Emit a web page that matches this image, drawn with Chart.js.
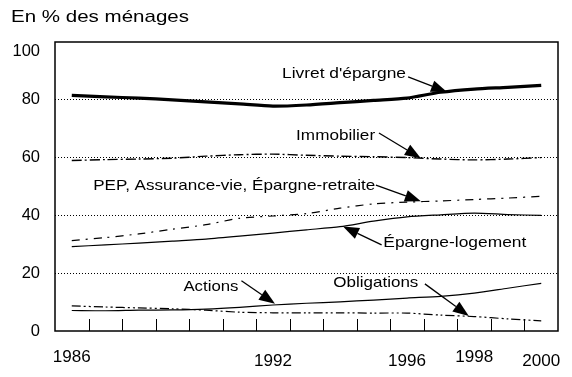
<!DOCTYPE html>
<html><head><meta charset="utf-8">
<script src="https://cdn.jsdelivr.net/npm/chart.js@4"></script>
<style>html,body{margin:0;padding:0;background:#fff;}canvas{display:block;}</style>
</head><body>
<canvas id="c" width="572" height="377"></canvas>
<script>
const years = [1986,1987,1988,1989,1990,1991,1992,1993,1994,1995,1996,1997,1998,1999,2000];
const livret      = [81.5,81.0,80.6,80.0,79.3,78.6,77.8,78.2,79.0,79.8,80.6,82.6,83.7,84.3,85.0];
const immobilier  = [59.0,59.3,59.5,59.8,60.5,61.0,61.2,60.8,60.5,60.3,60.0,59.5,59.2,59.5,60.0];
const pep         = [31.3,32.3,33.6,35.2,36.8,39.0,39.8,40.6,42.5,44.0,44.6,45.0,45.5,46.0,46.6];
const logement    = [29.2,29.8,30.4,31.1,31.8,32.8,33.9,35.0,36.1,38.0,39.5,40.2,40.8,40.3,40.0];
const actions     = [7.1,7.0,7.2,7.3,7.6,8.2,9.0,9.6,10.1,10.7,11.4,12.0,13.1,14.8,16.5];
const obligations = [8.7,8.3,8.0,7.7,7.2,6.5,6.3,6.3,6.3,6.2,6.2,5.5,5.0,4.2,3.5];
const yTicks = [0,20,40,60,80,100];
const xTickLabels = ['1986','1992','1996','1998','2000'];
const seriesNames = ["Livret d'épargne","Immobilier","PEP, Assurance-vie, Épargne-retraite","Épargne-logement","Actions","Obligations"];
const titleText = 'En % des ménages';

const pts = arr => years.map((y,i)=>({x:y, y:arr[i]}));

// annotation placement (data coordinates): label left/baseline, target width, arrow tail -> tip
const notes = [
  {t:seriesNames[0], x:1992.27, y:87.4, w:124, tail:[1996.03,87.9], tip:[1997.19,82.7]},
  {t:seriesNames[1], x:1992.69, y:66.0, w:79,  tail:[1995.16,68.5], tip:[1996.41,59.8]},
  {t:seriesNames[2], x:1986.64, y:48.8, w:282, tail:[1995.07,50.5], tip:[1996.41,44.9]},
  {t:seriesNames[3], x:1995.29, y:29.1, w:143, tail:[1995.24,29.8], tip:[1994.09,36.2]},
  {t:seriesNames[4], x:1989.33, y:13.9, w:55,  tail:[1991.06,17.4], tip:[1992.06,9.4]},
  {t:seriesNames[5], x:1993.80, y:15.1, w:85,  tail:[1996.53,16.3], tip:[1997.84,5.2]}
];
const xLabelBaseline = [362,366,366,361.5,366];

function stretchText(ctx, text, x, y, width, font){
  ctx.font = font;
  const w = ctx.measureText(text).width;
  ctx.save(); ctx.translate(x,y); ctx.scale(width/w,1); ctx.fillText(text,0,0); ctx.restore();
}

const deco = {
  id:'deco',
  afterDatasetsDraw(chart){
    const ctx = chart.ctx, a = chart.chartArea, xs = chart.scales.x, ys = chart.scales.y;
    ctx.save();
    ctx.strokeStyle = '#000'; ctx.fillStyle = '#000';
    ctx.lineWidth = 1.5; ctx.setLineDash([]);
    ctx.strokeRect(a.left, a.top, a.right-a.left, a.bottom-a.top);
    ctx.lineWidth = 1;
    years.slice(0,-1).forEach(y=>{
      const px = Math.round(xs.getPixelForValue(y+0.5))+0.5;
      ctx.beginPath(); ctx.moveTo(px, a.bottom); ctx.lineTo(px, a.bottom-12); ctx.stroke();
    });
    ctx.textBaseline = 'alphabetic';
    xTickLabels.forEach((l,i)=>{
      const px = xs.getPixelForValue(+l);
      const w = 38;
      stretchText(ctx, l, px - w/2, xLabelBaseline[i], w, '16.5px "Liberation Sans", Arial, sans-serif');
    });
    stretchText(ctx, titleText, 11, 22, 178, '17px "Liberation Sans", Arial, sans-serif');
    notes.forEach(n=>{
      stretchText(ctx, n.t, xs.getPixelForValue(n.x), ys.getPixelForValue(n.y), n.w, '15px "Liberation Sans", Arial, sans-serif');
      const x0 = xs.getPixelForValue(n.tail[0]), y0 = ys.getPixelForValue(n.tail[1]);
      const x1 = xs.getPixelForValue(n.tip[0]),  y1 = ys.getPixelForValue(n.tip[1]);
      const ang = Math.atan2(y1-y0, x1-x0), L = 16, H = 6;
      const bx = x1 - L*Math.cos(ang), by = y1 - L*Math.sin(ang);
      ctx.lineWidth = 1.3;
      ctx.beginPath(); ctx.moveTo(x0,y0); ctx.lineTo(bx,by); ctx.stroke();
      ctx.beginPath();
      ctx.moveTo(x1,y1);
      ctx.lineTo(bx + H*Math.sin(ang), by - H*Math.cos(ang));
      ctx.lineTo(bx - H*Math.sin(ang), by + H*Math.cos(ang));
      ctx.closePath(); ctx.fill();
    });
    ctx.restore();
  }
};

const base = {pointRadius:0, borderColor:'#000', fill:false, tension:0.25};
new Chart(document.getElementById('c'), {
  type:'line',
  data:{ datasets:[
    {...base, label:seriesNames[0], data:pts(livret), borderWidth:3.2},
    {...base, label:seriesNames[1], data:pts(immobilier), borderWidth:1.4, borderDash:[10,3,2,3]},
    {...base, label:seriesNames[2], data:pts(pep), borderWidth:1.2, borderDash:[8,6,2,6]},
    {...base, label:seriesNames[3], data:pts(logement), borderWidth:1.2},
    {...base, label:seriesNames[4], data:pts(actions), borderWidth:1.2},
    {...base, label:seriesNames[5], data:pts(obligations), borderWidth:1.2, borderDash:[9,3,2,3,2,3]}
  ]},
  options:{
    responsive:false, animation:false, devicePixelRatio:1,
    layout:{padding:{top:42, right:14, left:0, bottom:0}},
    plugins:{legend:{display:false}, tooltip:{enabled:false}, title:{display:false}},
    scales:{
      x:{type:'linear', min:1985.5, max:2000.5,
         ticks:{display:false}, grid:{display:false}, border:{display:false},
         afterFit(s){ s.height = 46; }},
      y:{min:0, max:100,
         afterBuildTicks(s){ s.ticks = yTicks.map(v=>({value:v})); },
         afterFit(s){ s.width = 55; },
         ticks:{color:'#000', padding:15,
           font:(c)=>({family:'"Liberation Sans", Arial, sans-serif', size:16.5, lineHeight: (c.tick && c.tick.value===100) ? '18px' : '19px'}),
           callback:(v)=> v===100 ? ['', String(v)] : String(v)},
         grid:{drawTicks:false, lineWidth:1, borderDash:[1,2],
           color:(c)=> (c.tick && (c.tick.value===0 || c.tick.value===100)) ? 'rgba(0,0,0,0)' : '#000'},
         border:{display:false, dash:[1,2]}}
    }
  },
  plugins:[deco]
});
</script>
</body></html>
